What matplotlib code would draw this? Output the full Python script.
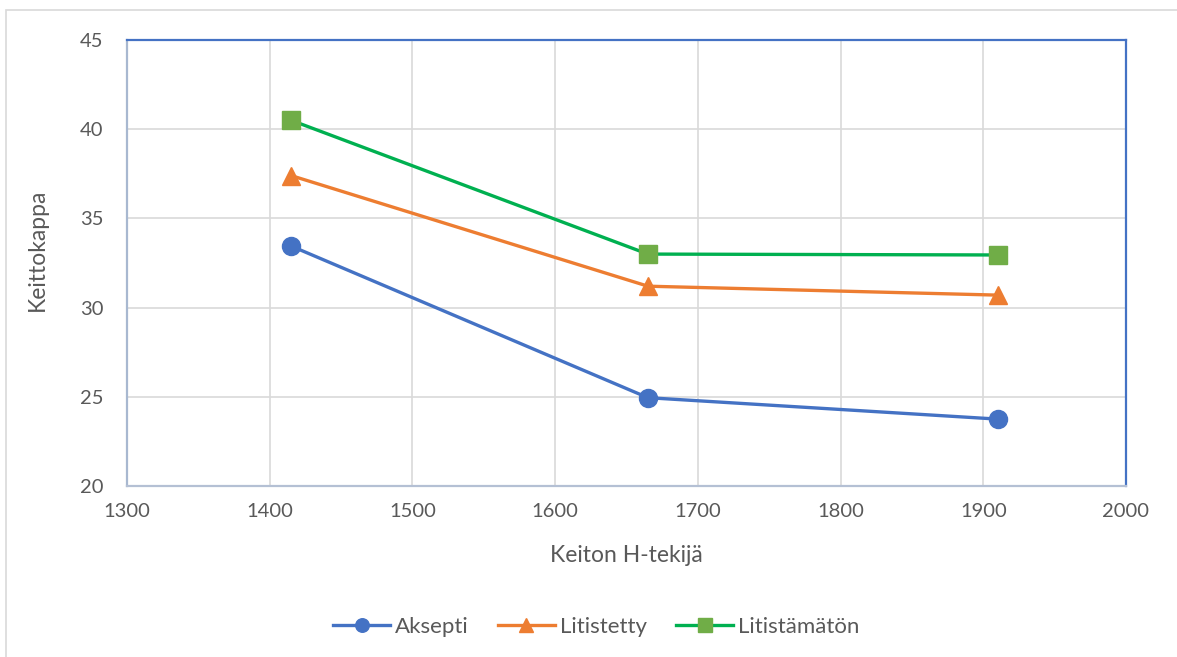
import matplotlib
matplotlib.use("Agg")
import matplotlib.pyplot as plt
from matplotlib.patches import Rectangle

plt.rcParams['font.family'] = ['Lato', 'DejaVu Sans']

h_factor = [1415, 1665, 1910]
aksepti = [33.45, 24.95, 23.75]
litistetty = [37.4, 31.2, 30.7]
litistamaton = [40.5, 33.0, 32.95]
series_names = ["Aksepti", "Litistetty", "Litistämätön"]
x_ticks = [1300, 1400, 1500, 1600, 1700, 1800, 1900, 2000]
y_ticks = [20, 25, 30, 35, 40, 45]

fig = plt.figure(figsize=(11.77, 6.57), dpi=100)
fig.patches.append(Rectangle((6/1177, -0.1), 1.2, 1 - 10/657 + 0.1, transform=fig.transFigure,
                             fill=False, edgecolor='#D9D9D9', linewidth=1.2, zorder=-1))
ax = fig.add_axes([127/1177, 1 - 486/657, (1126-127)/1177, (486-40)/657])

ax.plot(h_factor, aksepti, color='#4472C4', lw=2.4, marker='o', ms=13,
        markerfacecolor='#4472C4', markeredgecolor='#4472C4', label=series_names[0], zorder=3)
ax.plot(h_factor, litistetty, color='#ED7D31', lw=2.4, marker='^', ms=13,
        markerfacecolor='#ED7D31', markeredgecolor='#ED7D31', label=series_names[1], zorder=3)
ax.plot(h_factor, litistamaton, color='#00B050', lw=2.4, marker='s', ms=13,
        markerfacecolor='#70AD47', markeredgecolor='#70AD47', label=series_names[2], zorder=3)

ax.set_xlim(1300, 2000)
ax.set_ylim(20, 45)
ax.set_xticks(x_ticks)
ax.set_yticks(y_ticks)
ax.grid(True, color='#D9D9D9', lw=1.2)
ax.set_axisbelow(True)
ax.tick_params(length=0, labelsize=14.5, colors='#595959')
ax.tick_params(axis='x', pad=12)
ax.tick_params(axis='y', pad=17)

ax.spines['top'].set_color('#4472C4')
ax.spines['right'].set_color('#4472C4')
ax.spines['left'].set_color('#A8B8D0')
ax.spines['bottom'].set_color('#B4C0D4')
for s in ax.spines.values():
    s.set_linewidth(1.6)

ax.set_xlabel("Keiton H-tekijä", fontsize=16.5, color='#595959', va='center')
ax.set_ylabel("Keittokappa", fontsize=16.5, color='#595959', va='center')
ax.xaxis.set_label_coords((626 - 127) / 999, (486 - 555) / 446)
ax.yaxis.set_label_coords((37 - 127) / 999, (486 - 250) / 446)

leg = fig.legend(loc='center', bbox_to_anchor=(596/1177, 1 - 627/657), ncol=3, frameon=False,
                 fontsize=16, handlelength=2.6, columnspacing=1.3, handletextpad=0.2,
                 labelcolor='#595959', markerscale=0.75)

fig.savefig("out.png", dpi=100)
